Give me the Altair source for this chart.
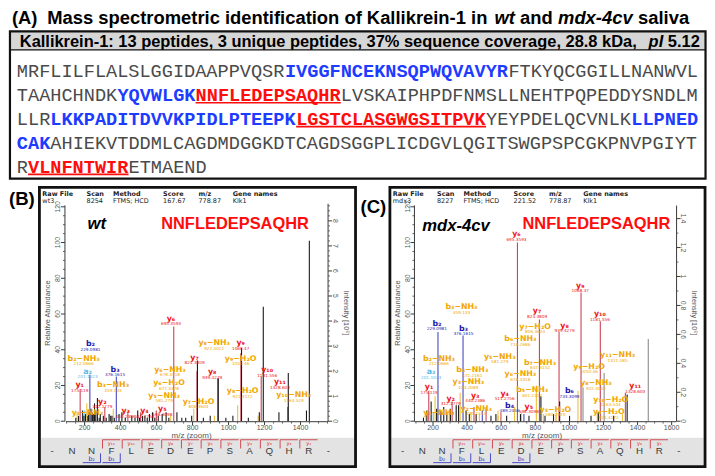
import altair as alt
import pandas as pd

# ---------------- values ----------------
TITLE_TAG = "(A)"
TITLE_PARTS = ["Mass spectrometric identification of Kallikrein-1 in ", "wt", " and ", "mdx-4cv", " saliva"]
TITLE_ITALIC = [False, True, False, True, False]
HEADER_PARTS = ["Kallikrein-1: 13 peptides, 3 unique peptides, 37% sequence coverage, 28.8 kDa,  ", "pI", " 5.12"]
HEADER_ITALIC = [False, True, False]

SEQ_TEXT = [
    ["MRFLILFLALSLGGIDAAPPVQSR", "IVGGFNCEKNSQPWQVAVYR", "FTKYQCGGILLNANWVL"],
    ["TAAHCHNDK", "YQVWLGK", "NNFLEDEPSAQHR", "LVSKAIPHPDFNMSLLNEHTPQPEDDYSNDLM"],
    ["LLR", "LKKPADITDVVKPIDLPTEEPK", "LGSTCLASGWGSITPVK", "YEYPDELQCVNLK", "LLPNED"],
    ["CAK", "AHIEKVTDDMLCAGDMDGGKDTCAGDSGGPLICDGVLQGITSWGPSPCGKPNVPGIYT"],
    ["R", "VLNFNTWIR", "ETMAEND"],
]
SEQ_STYLE = [
    ["plain", "blue", "plain"],
    ["plain", "blue", "red", "plain"],
    ["plain", "blue", "red", "plain", "blue"],
    ["blue", "plain"],
    ["plain", "red", "plain"],
]

HDR_KEYS = ["Raw File", "Scan", "Method", "Score", "m/z", "Gene names"]
B_HDR_VALS = ["wt3", "8254", "FTMS; HCD", "167.67", "778.87", "Klk1"]
C_HDR_VALS = ["mdx3", "8227", "FTMS; HCD", "221.52", "778.87", "Klk1"]

FRAG_SEQ = ["-", "N", "N", "F", "L", "E", "D", "E", "P", "S", "A", "Q", "H", "R", "-"]
Y_ION_POS = [3, 4, 5, 6, 7, 8, 9, 10, 11, 12, 13]
Y_ION_NAME = ["y11", "y10", "y9", "y8", "y7", "y6", "y5", "y4", "y3", "y2", "y1"]
B_BION_POS = [2, 3]
B_BION_NAME = ["b2", "b3"]
C_BION_POS = [2, 3, 4, 6]
C_BION_NAME = ["b2", "b3", "b4", "b6"]

# panel B peaks (m/z, relative abundance, kind)
B_MZ = [158.09, 175.12, 201.10, 212.07, 229.09, 312.18, 359.13, 376.16, 440.24, 511.28, 581.28, 598.31,
        678.33, 695.35, 806.37, 824.38, 921.42, 939.43, 1050.46, 1068.47, 1164.53, 1181.56, 1328.60,
        151, 166, 189, 196, 205, 218, 222, 236, 243, 248, 255, 262, 271, 281, 287, 304, 320, 336, 345,
        352, 365, 391, 407, 426, 462, 480, 495, 505, 522, 535, 548, 560, 577, 590, 609, 631, 653, 668,
        713, 740, 762, 795, 827, 860, 898, 943, 985, 1024, 1072, 1110, 1171, 1193, 1280, 1332, 1433, 1449]
B_H = [5, 18, 6, 10, 26, 8, 7, 25, 5, 5, 5, 6,
       3, 53, 7, 28, 3, 24, 9, 38, 3, 25, 8,
       2, 3, 6, 3, 4, 3, 5, 7, 5, 4, 10, 6, 13, 2, 4, 3, 2, 4, 3,
       3, 2, 4, 5, 2, 3, 2, 6, 2, 3, 3, 2, 4, 5, 2, 3, 4, 5, 2,
       5, 2, 2, 3, 34, 2, 3, 24, 2, 3, 41, 2, 5, 64, 5, 27, 6, 101]
B_KIND = ["loss", "y", "a", "loss", "b", "y", "loss", "b", "y", "y", "loss", "y",
          "loss", "y", "loss", "y", "loss", "y", "loss", "y", "loss", "y", "y"] + ["o"] * 56

# panel C peaks
C_MZ = [158.09, 175.12, 201.10, 212.07, 229.09, 295.15, 312.18, 359.13, 376.16, 423.21, 440.24, 472.22,
        489.25, 511.28, 580.30, 581.28, 598.31, 601.23, 678.33, 695.35, 718.27, 733.31, 806.37, 824.38,
        847.31, 921.42, 922.40, 939.43, 1050.46, 1068.47, 1163.54, 1181.56, 1311.59, 1328.60,
        144, 164, 189, 221, 246, 263, 281, 302, 336, 350, 394, 413, 453, 540, 569, 632, 713, 763, 833,
        857, 907, 943, 1001, 1080, 1127, 1170, 1204, 1260, 1339, 1463]
C_H = [5, 17, 5, 14, 50, 6, 11, 16, 48, 5, 8, 4,
       6, 7, 3, 6, 5, 4, 8, 100, 5, 4, 20, 57,
       4, 3, 5, 50, 17, 72, 5, 56, 4, 16,
       2, 6, 11, 7, 6, 8, 5, 7, 9, 9, 6, 4, 4, 3, 4, 3, 4, 3, 14,
       3, 4, 11, 3, 19, 3, 5, 27, 3, 15, 46]
C_KIND = ["loss", "y", "a", "loss", "b", "loss", "y", "loss", "b", "loss", "y", "loss",
          "b", "y", "loss", "loss", "y", "loss", "loss", "y", "loss", "b", "loss", "y",
          "loss", "loss", "loss", "y", "loss", "y", "loss", "y", "loss", "y"] + \
         ["o"] * 23 + ["g", "o", "o", "g", "o", "o", "g"]

# peak annotations: ion, m/z text, label position (m/z, abundance)
B_LAB_ION = ["y1", "a2", "b2", "b2-NH3", "b3", "b3-NH3", "y2", "y1-NH3", "y3", "y4", "y5", "y5-NH3", "y6",
             "y6-NH3", "y6-H2O", "y7", "y7-H2O", "y8-NH3", "y9", "y9-H2O", "y8", "y8-H2O", "y10", "y11", "y10-NH3"]
B_LAB_NUM = ["175.119", "201.1023", "229.0981", "212.0666", "376.1615", "359.133", "312.1779", "", "440.2386",
             "511.2756", "598.3098", "581.279", "695.3593", "678.3318", "677.3478", "824.3809", "806.3604",
             "922.4012", "1068.47", "1050.46", "939.4279", "921.4172", "1181.556", "1328.603", "1164.529"]
B_LAB_X = [172.7, 216.4, 232.7, 194.5, 369.1, 358, 298.2, 216, 428, 532.8, 632, 642, 680.1,
           674.6, 669, 811, 833, 920.1, 1067.4, 1067, 909.2, 1078.3, 1214.7, 1285.6, 1362]
B_LAB_Y = [20.2, 27.8, 43.1, 34.9, 28.9, 20.2, 10.9, 4.4, 5.5, 5.5, 6.8, 14.3, 57.3,
           28.9, 21.3, 35.5, 10.9, 43.6, 43.6, 34.9, 27.3, 16.9, 28.4, 21.8, 14.7]

C_LAB_ION = ["y6", "y9", "y10", "y7", "b3-NH3", "y7-H2O", "y8", "b2", "b3", "b6-NH3", "b2-NH3", "y5-NH3",
             "b7-NH3", "y11-NH3", "y9-H2O", "a2", "b4-NH3", "y6-NH3", "y3-NH3", "y8-NH3", "y1", "y11",
             "b5-NH3", "b6", "y3", "y4", "y2", "y10-H2O", "b4", "y5", "y2-NH3", "y5-H2O", "y1-NH3", "y8-H2O"]
C_LAB_NUM = ["695.3593", "1068.47", "1181.556", "824.3809", "359.133", "806.3604", "939.4279", "229.0981",
             "376.1615", "718.2686", "212.0666", "581.279", "847.3152", "1311.585", "1050.46", "201.1023",
             "472.2161", "678.3318", "423.2089", "922.4012", "175.119", "1328.603", "601.2317", "733.3099",
             "440.2386", "511.2756", "312.1779", "1163.544", "489.2456", "598.3098", "295.1514", "580.2970",
             "", "921.4172"]
C_LAB_X = [689.6, 1064.1, 1179.3, 810.6, 367.1, 799.1, 971.9, 223.0, 378.6, 712.7, 234.6, 591.7,
           827.9, 1283.0, 1115.9, 188.5, 430.4, 712.7, 407.4, 1156.2, 177.0, 1386.6,
           781.8, 1000.7, 447.7, 620.5, 303.7, 1242.6, 649.3, 762, 453.5, 918, 234.6, 1231.1]
C_LAB_Y = [104.7, 75.8, 60.0, 61.6, 63.8, 52.9, 53.5, 54.6, 51.8, 45.8, 34.9, 36.0,
           32.7, 37.1, 30.6, 27.3, 28.4, 26.2, 21.8, 21.3, 19.1, 19.6,
           17.5, 16.9, 14.2, 15.4, 12.5, 12.0, 8.7, 8.2, 7.1, 6.5, 4.4, 4.9]

LEFT_TICKS = [0, 20, 40, 60, 80, 100, 120]
B_RIGHT_TICKS = [0, 1, 2, 3, 4, 5, 6, 7, 8]
B_RIGHT_LABELS = ["0", "1", "2", "3", "4", "5", "6", "7", "8"]
C_RIGHT_TICKS = [0, 0.2, 0.4, 0.6, 0.8, 1.0, 1.2, 1.4]
C_RIGHT_LABELS = ["0", "0.2", "0.4", "0.6", "0.8", "1", "1.2", "1.4"]
B_X_TICKS = [200, 400, 600, 800, 1000, 1200, 1400]
C_X_TICKS = [200, 400, 600, 800, 1000, 1200, 1400, 1600]

# ---------------- styling ----------------
LINE_COLORS = {"y": "#c94558", "b": "#4a4ac2", "a": "#6cc0ea", "loss": "#efc23e", "o": "#1a1a1a", "g": "#8c8c8c"}
LABEL_COLORS = {"y": "#ee1111", "b": "#1a1aae", "a": "#58b8e8", "loss": "#f2a600"}
SEQ_COLORS = {"blue": "#1e3cff", "red": "#ff0d0d"}
AX = "#3a3a3a"
AXT = "#555555"

SX = 699 / 712.0
SY = 460 / 472.0


def PX(r):
    return round((r - 1) * SX, 2)


def PY(r):
    return round((r - 3) * SY, 2)


def FS(s):
    return round(s * 0.978, 2)


W_BOLD = {" ": 278, "(": 333, ")": 333, "A": 722, "B": 722, "C": 722, "D": 722, "I": 278, "K": 722,
          "M": 833, "a": 556, "c": 556, "d": 611, "e": 556, "f": 333, "g": 611, "i": 278, "k": 556,
          "l": 278, "m": 889, "n": 611, "o": 611, "p": 611, "q": 611, "r": 389, "s": 556, "t": 333,
          "u": 611, "v": 556, "w": 778, "x": 556, "%": 889, ":": 333, ".": 278, ",": 278, "-": 333}


def tw(s, size):
    return sum(W_BOLD.get(ch, 556) for ch in s) / 1000.0 * size


SUBS = str.maketrans("0123456789", "₀₁₂₃₄₅₆₇₈₉")


def ion_text(s):
    if "-" in s:
        a, b = s.split("-")
        return a.translate(SUBS) + "−" + b.translate(SUBS)
    return s.translate(SUBS)


def ion_kind(s):
    if "-" in s:
        return "loss"
    return s[0]


layers = []


def add_rects(rows):
    df = pd.DataFrame([{"x": PX(a), "y": PY(b), "x2": PX(c), "y2": PY(d), "f": f, "sc": s, "sw": w}
                       for a, b, c, d, f, s, w in rows])
    layers.append(alt.Chart(df).mark_rect().encode(
        x=alt.X("x:Q", scale=None, axis=None), x2="x2:Q",
        y=alt.Y("y:Q", scale=None, axis=None), y2="y2:Q",
        fill=alt.Fill("f:N", scale=None), stroke=alt.Stroke("sc:N", scale=None),
        strokeWidth=alt.StrokeWidth("sw:Q", scale=None)))


def add_texts(rows, font="Liberation Sans", weight="normal", style="normal", align="left", baseline="alphabetic"):
    df = pd.DataFrame([{"x": PX(x), "y": PY(y), "t": t, "s": FS(s), "c": c, "a": a} for x, y, t, s, c, a in rows])
    layers.append(alt.Chart(df).mark_text(font=font, fontWeight=weight, fontStyle=style, align=align,
                                          baseline=baseline).encode(
        x=alt.X("x:Q", scale=None, axis=None), y=alt.Y("y:Q", scale=None, axis=None),
        text="t:N", size=alt.Size("s:Q", scale=None), color=alt.Color("c:N", scale=None),
        angle=alt.Angle("a:Q", scale=None)))


def rich_line(parts, italic, x0, y, size):
    """Lay out text segments left to right (SVG drops leading spaces, so offset them)."""
    plain_rows, ital_rows = [], []
    xpos = x0
    for t, it in zip(parts, italic):
        lead = len(t) - len(t.lstrip(" "))
        row = (xpos + tw(" " * lead, size), y, t.strip(" "), size, "black", 0)
        (ital_rows if it else plain_rows).append(row)
        xpos += tw(t, size)
    add_texts(plain_rows, weight="bold")
    add_texts(ital_rows, weight="bold", style="italic")


# ---------------- panel A ----------------
add_rects([(3, 27, 712, 46, "#d6d6d6", "#d6d6d6", 0)])

seq_rows = []
for li, (texts, styles) in enumerate(zip(SEQ_TEXT, SEQ_STYLE), start=1):
    pos = 0
    for t, s in zip(texts, styles):
        seq_rows.append({"line": li, "start": pos, "end": pos + len(t), "seg": t, "style": s,
                         "c": SEQ_COLORS.get(s, "#444444")})
        pos += len(t)
seq_df = pd.DataFrame(seq_rows)
sx_seq = alt.Scale(domain=[0, 61], range=[PX(10), PX(10 + 61 * 11.38)], nice=False, zero=False)
sy_seq = alt.Scale(domain=[1, 5], range=[PY(68), PY(166)], nice=False, zero=False)
seq_base = alt.Chart(seq_df).encode(x=alt.X("start:Q", scale=sx_seq, axis=None),
                                    y=alt.Y("line:Q", scale=sy_seq, axis=None))
layers.append(seq_base.transform_filter(alt.datum.style == "plain").mark_text(
    font="Liberation Mono", fontSize=FS(19), align="left", baseline="middle", color="#4a4a4a").encode(text="seg:N"))
layers.append(seq_base.transform_filter(alt.datum.style != "plain").mark_text(
    font="Liberation Mono", fontSize=FS(19), fontWeight="bold", align="left", baseline="middle").encode(
    text="seg:N", color=alt.Color("c:N", scale=None)))
layers.append(seq_base.transform_filter(alt.datum.style == "red").mark_rule(
    color="#ff0d0d", strokeWidth=1.6, yOffset=7.5).encode(x2="end:Q"))

# title and header of panel A
add_texts([(5, 19, TITLE_TAG, 18.8, "black", 0)], weight="bold")
rich_line(TITLE_PARTS, TITLE_ITALIC, 41.0, 19, 18.8)
rich_line(HEADER_PARTS, HEADER_ITALIC, 13.0, 42.5, 16.8)


# ---------------- panels B and C ----------------
def build_panel(cfg):
    bl = cfg["box"][0]
    br = cfg["box"][2]
    # bottom sequence band
    add_rects([(bl + 1.5, 444, br - 1.5, 472, "#e3e3e3", "#e3e3e3", 0)])

    xs = alt.Scale(domain=cfg["xdom"], range=[PX(cfg["xpx"][0]), PX(cfg["xpx"][1])], nice=False, zero=False)
    ys = alt.Scale(domain=[0, 120], range=[PY(427), PY(207)], nice=False, zero=False)
    rs = alt.Scale(domain=[0, cfg["rmax"]], range=[PY(427), PY(cfg["rmax_px"])], nice=False, zero=False)

    def X(f):
        return alt.X(f, scale=xs, axis=None)

    def Y(f):
        return alt.Y(f, scale=ys, axis=None)

    def R(f):
        return alt.Y(f, scale=rs, axis=None)

    pk = pd.DataFrame({"mz": cfg["mz"], "h": cfg["h"], "z": 0,
                       "c": [LINE_COLORS[k] for k in cfg["kind"]]})
    layers.append(alt.Chart(pk).mark_rule(strokeWidth=1.1).encode(
        x=X("mz:Q"), y=Y("h:Q"), y2="z:Q", color=alt.Color("c:N", scale=None)))

    lb = pd.DataFrame({"lx": cfg["lab_x"], "ly": cfg["lab_y"],
                       "name": [ion_text(i) for i in cfg["lab_ion"]], "num": cfg["lab_num"],
                       "c": [LABEL_COLORS[ion_kind(i)] for i in cfg["lab_ion"]]})
    layers.append(alt.Chart(lb).mark_text(font="DejaVu Sans", fontWeight="bold", fontSize=FS(8),
                                          baseline="middle").encode(
        x=X("lx:Q"), y=Y("ly:Q"), text="name:N", color=alt.Color("c:N", scale=None)))
    layers.append(alt.Chart(lb).mark_text(font="DejaVu Sans", fontSize=FS(4.3), baseline="middle",
                                          dy=5.6).encode(
        x=X("lx:Q"), y=Y("ly:Q"), text="num:N", color=alt.Color("c:N", scale=None)))

    # left axis
    lax = cfg["lax"]
    layers.append(alt.Chart(pd.DataFrame({"a": [0], "b": [120.8]})).mark_rule(color=AX, strokeWidth=1).encode(
        x=alt.value(PX(lax)), y=Y("a:Q"), y2="b:Q"))
    lt = pd.DataFrame({"v": LEFT_TICKS, "t": [str(v) for v in LEFT_TICKS]})
    layers.append(alt.Chart(lt).mark_rule(color=AX, strokeWidth=1).encode(
        x=alt.value(PX(lax - 4)), x2=alt.value(PX(lax)), y=Y("v:Q")))
    lm = pd.DataFrame({"v": [v for v in range(0, 121, 5) if v % 20]})
    layers.append(alt.Chart(lm).mark_rule(color=AX, strokeWidth=0.8).encode(
        x=alt.value(PX(lax - 2)), x2=alt.value(PX(lax)), y=Y("v:Q")))
    layers.append(alt.Chart(lt).mark_text(font="Liberation Sans", fontSize=FS(7), color=AXT, angle=270,
                                          align="center", baseline="middle").encode(
        x=alt.value(PX(lax - 7)), y=Y("v:Q"), text="t:N"))

    # right axis
    rax = cfg["rax"]
    layers.append(alt.Chart(pd.DataFrame({"a": [0], "b": [cfg["rtop"]]})).mark_rule(color=AX, strokeWidth=1).encode(
        x=alt.value(PX(rax)), y=R("a:Q"), y2="b:Q"))
    rt = pd.DataFrame({"v": cfg["rticks"], "t": cfg["rlabels"]})
    layers.append(alt.Chart(rt).mark_rule(color=AX, strokeWidth=1).encode(
        x=alt.value(PX(rax)), x2=alt.value(PX(rax + 4)), y=R("v:Q")))
    layers.append(alt.Chart(pd.DataFrame({"v": cfg["rminor"]})).mark_rule(color=AX, strokeWidth=0.7).encode(
        x=alt.value(PX(rax)), x2=alt.value(PX(rax + 2)), y=R("v:Q")))
    layers.append(alt.Chart(rt).mark_text(font="Liberation Sans", fontSize=FS(7), color=AXT, angle=90,
                                          align="center", baseline="middle").encode(
        x=alt.value(PX(rax + 7)), y=R("v:Q"), text="t:N"))

    # x axis
    layers.append(alt.Chart(pd.DataFrame({"a": [cfg["xdom"][0]], "b": [cfg["xdom"][1]]})).mark_rule(
        color=AX, strokeWidth=1).encode(x=X("a:Q"), x2="b:Q", y=alt.value(PY(427.5))))
    xt = pd.DataFrame({"v": cfg["xticks"], "t": [str(v) for v in cfg["xticks"]]})
    layers.append(alt.Chart(xt).mark_rule(color=AX, strokeWidth=1).encode(
        x=X("v:Q"), y=alt.value(PY(427.5)), y2=alt.value(PY(431))))
    xm = pd.DataFrame({"v": [v for v in range(100, int(cfg["xdom"][1]), 50) if v % 200]})
    layers.append(alt.Chart(xm).mark_rule(color=AX, strokeWidth=0.7).encode(
        x=X("v:Q"), y=alt.value(PY(427.5)), y2=alt.value(PY(429.5))))
    layers.append(alt.Chart(xt).mark_text(font="Liberation Sans", fontSize=FS(7.2), color=AXT,
                                          align="center", baseline="middle").encode(
        x=X("v:Q"), y=alt.value(PY(434)), text="t:N"))

    # fragment ladder
    fsc = alt.Scale(domain=[0, 14], range=[PX(bl + 13), PX(bl + 13 + 14 * 20.1)], nice=False, zero=False)

    def F(f):
        return alt.X(f, scale=fsc, axis=None)

    fl = pd.DataFrame({"i": list(range(len(FRAG_SEQ))), "t": FRAG_SEQ})
    layers.append(alt.Chart(fl).mark_text(font="Liberation Sans", fontSize=FS(10), color="#3a3a3a",
                                          align="center", baseline="middle").encode(
        x=F("i:Q"), y=alt.value(PY(458)), text="t:N"))
    yi = pd.DataFrame({"i": Y_ION_POS, "l": [p - 0.45 for p in Y_ION_POS], "r": [p + 0.45 for p in Y_ION_POS],
                       "t": [ion_text(n) for n in Y_ION_NAME]})
    layers.append(alt.Chart(yi).mark_rule(color="#d24b55", strokeWidth=1).encode(
        x=F("l:Q"), x2="r:Q", y=alt.value(PY(446))))
    layers.append(alt.Chart(yi).mark_rule(color="#d24b55", strokeWidth=1).encode(
        x=F("l:Q"), y=alt.value(PY(446)), y2=alt.value(PY(455))))
    layers.append(alt.Chart(yi).mark_text(font="DejaVu Sans", fontSize=FS(5.2), color="#e02020",
                                          align="center", baseline="middle").encode(
        x=F("i:Q"), y=alt.value(PY(449.3)), text="t:N"))
    bi = pd.DataFrame({"i": cfg["bpos"], "l": [p - 0.45 for p in cfg["bpos"]], "r": [p + 0.45 for p in cfg["bpos"]],
                       "t": [ion_text(n) for n in cfg["bname"]]})
    layers.append(alt.Chart(bi).mark_rule(color="#4c4cc4", strokeWidth=1).encode(
        x=F("l:Q"), x2="r:Q", y=alt.value(PY(469.5))))
    layers.append(alt.Chart(bi).mark_rule(color="#4c4cc4", strokeWidth=1).encode(
        x=F("r:Q"), y=alt.value(PY(460)), y2=alt.value(PY(469.5))))
    layers.append(alt.Chart(bi).mark_text(font="DejaVu Sans", fontSize=FS(6.3), color="#2a2ab8",
                                          align="center", baseline="middle").encode(
        x=F("i:Q"), y=alt.value(PY(466)), text="t:N"))

    # texts
    add_texts([(lax - 17, 316, "Relative Abundance", 7.5, AXT, 270),
               (rax + 18, 316, "Intensity [10⁶]", 7.5, AXT, 90),
               (cfg["xtitle"], 442, "m/z (zoom)", 8.2, AXT, 0)], align="center", baseline="middle")
    offs = [3, 48, 75, 126, 162, 197]
    add_texts([(bl + o, 196, k, 6.6, "#1a1a1a", 0) for o, k in zip(offs, HDR_KEYS)],
              font="DejaVu Sans", weight="bold")
    add_texts([(bl + o, 203, v, 6.6, "#1a1a1a", 0) for o, v in zip(offs, cfg["hvals"])],
              font="DejaVu Sans")
    add_texts([cfg["tag"]], weight="bold")
    add_texts([cfg["mouse"]], weight="bold", style="italic")
    add_texts([cfg["pep"]], weight="bold")


B_CFG = dict(box=(33, 187, 355, 473.5), xdom=[96, 1553], xpx=[60, 327], rmax=8, rmax_px=427 - 8 * 25.7,
             rtop=8.68, rticks=B_RIGHT_TICKS, rlabels=B_RIGHT_LABELS,
             rminor=[round(0.2 * k, 1) for k in range(0, 44) if k % 5],
             mz=B_MZ, h=B_H, kind=B_KIND, lab_ion=B_LAB_ION, lab_num=B_LAB_NUM, lab_x=B_LAB_X, lab_y=B_LAB_Y,
             lax=59, rax=327, xticks=B_X_TICKS, xtitle=188, bpos=B_BION_POS, bname=B_BION_NAME,
             hvals=B_HDR_VALS, tag=(2, 205, "(B)", 19, "black", 0), mouse=(82, 230, "wt", 17, "black", 0),
             pep=(157, 230, "NNFLEDEPSAQHR", 16.8, "#ff0d0d", 0))
C_CFG = dict(box=(390, 187, 711, 473.5), xdom=[91, 1629], xpx=[415, 682], rmax=1.4, rmax_px=427 - 1.4 * 148.5,
             rtop=1.49, rticks=C_RIGHT_TICKS, rlabels=C_RIGHT_LABELS,
             rminor=[round(0.1 * k, 1) for k in range(1, 15, 2)],
             mz=C_MZ, h=C_H, kind=C_KIND, lab_ion=C_LAB_ION, lab_num=C_LAB_NUM, lab_x=C_LAB_X, lab_y=C_LAB_Y,
             lax=415, rax=682, xticks=C_X_TICKS, xtitle=545, bpos=C_BION_POS, bname=C_BION_NAME,
             hvals=C_HDR_VALS, tag=(360, 213, "(C)", 19, "black", 0), mouse=(423, 232, "mdx-4cv", 17, "black", 0),
             pep=(525, 230, "NNFLEDEPSAQHR", 16.8, "#ff0d0d", 0))

build_panel(B_CFG)
build_panel(C_CFG)

# frames
add_rects([(3, 27, 711.5, 178, "rgba(0,0,0,0)", "#111111", 2.2),
           (3, 46, 711.5, 46, "rgba(0,0,0,0)", "#111111", 1.4),
           (33, 187, 355, 473.5, "rgba(0,0,0,0)", "#111111", 2.8),
           (390, 187, 711, 473.5, "rgba(0,0,0,0)", "#111111", 2.8)])

chart = alt.layer(*layers).resolve_scale(x="independent", y="independent").properties(
    width=699, height=460, autosize=alt.AutoSizeParams(type="none"), padding=0
).configure_view(stroke=None)

chart.save("out.html", embed_options={"renderer": "svg", "actions": False})
